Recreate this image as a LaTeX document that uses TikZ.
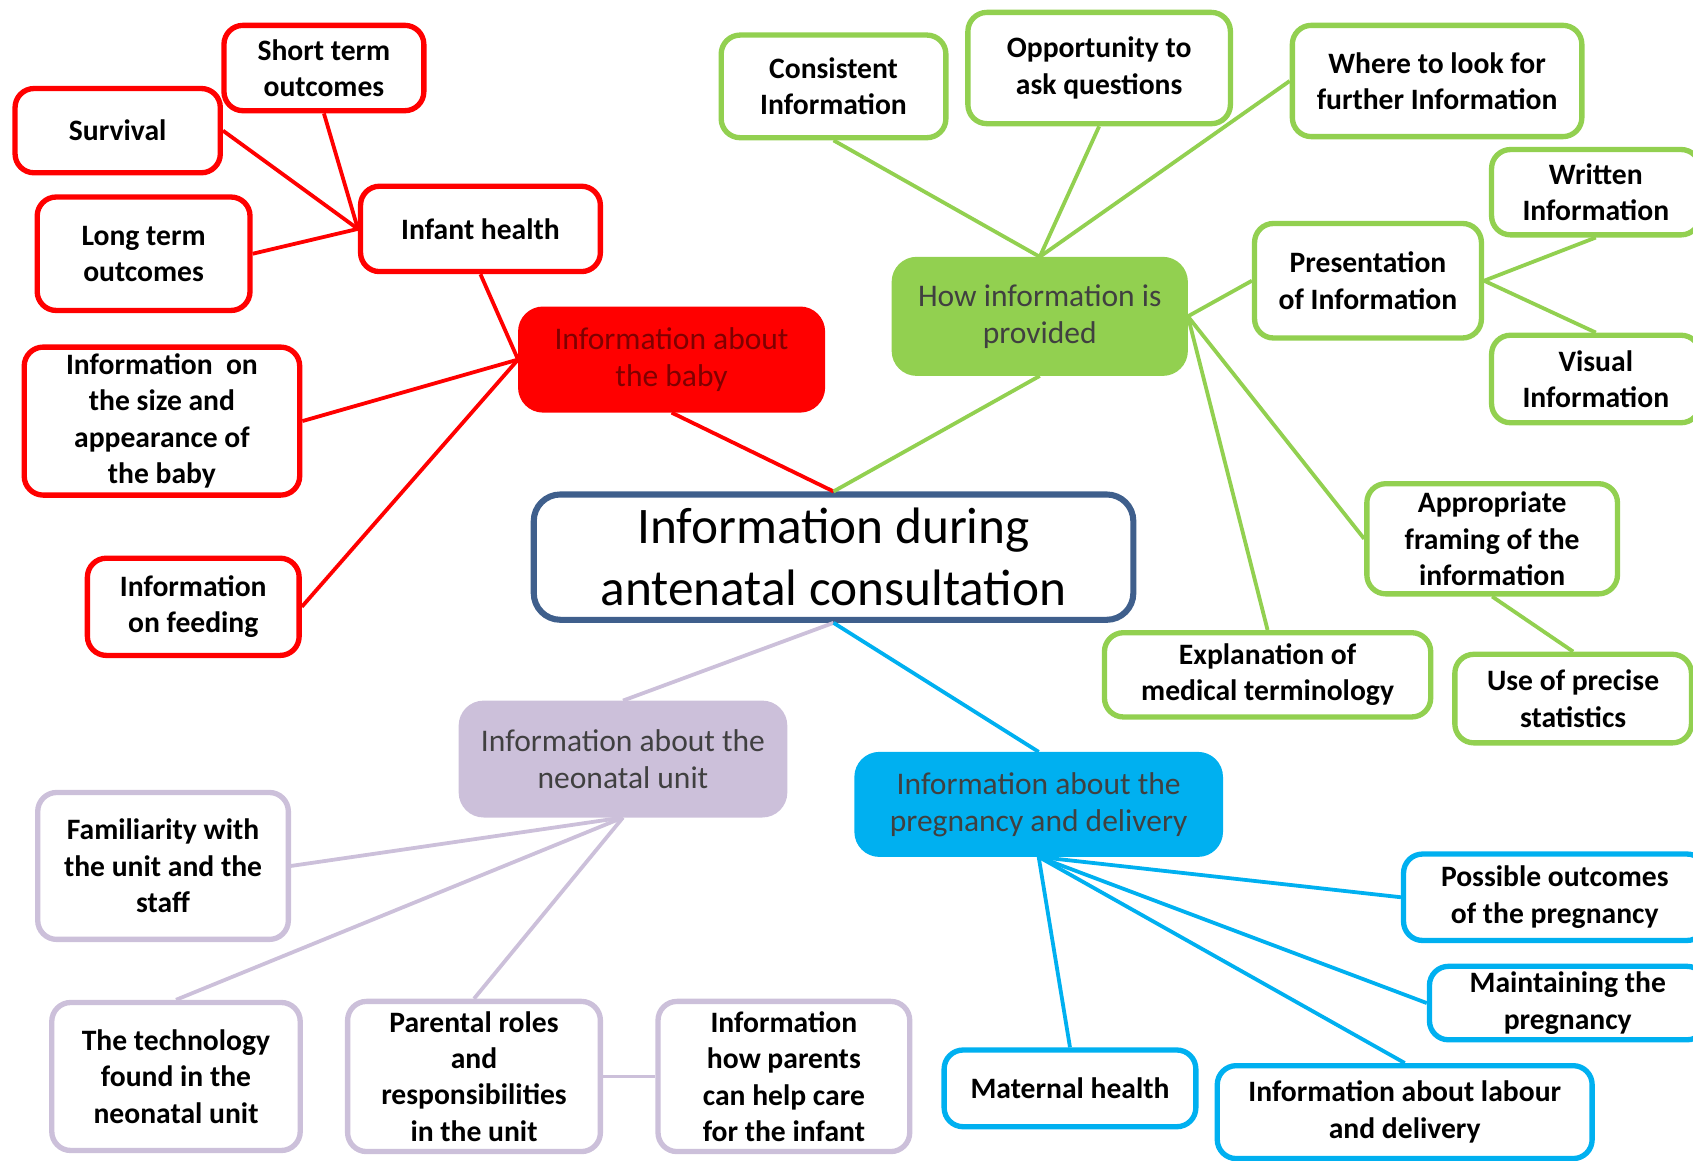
\documentclass[tikz,border=0pt]{standalone}
\usepackage{fontspec}
\setmainfont{Carlito}
\usetikzlibrary{positioning}

\definecolor{babyred}{HTML}{FF0000}
\definecolor{babytext}{HTML}{7F0000}
\definecolor{howgreen}{HTML}{92D050}
\definecolor{pregblue}{HTML}{00B0F0}
\definecolor{unitlilac}{HTML}{CCC0DA}
\definecolor{maintext}{HTML}{404040}
\definecolor{mainblue}{HTML}{3F5F8C}

\begin{document}
\begin{tikzpicture}[x=0.01cm, y=-0.01cm]
	\tikzset{
		leaf/.style={rectangle, rounded corners=5pt, draw, fill=white, line width=1.4pt, align=center, inner sep=1pt, font=\bfseries\fontsize{7.8}{9.6}\selectfont},
		hub/.style={rectangle, rounded corners=6pt, draw, line width=1.2pt, align=center, inner sep=1pt, text=maintext, font=\fontsize{8.3}{9.8}\selectfont},
		babybox/.style={leaf, draw=babyred},
		howbox/.style={leaf, draw=howgreen},
		pregbox/.style={leaf, draw=pregblue},
		unitbox/.style={leaf, draw=unitlilac},
		babyline/.style={draw=babyred, line width=1pt},
		howline/.style={draw=howgreen, line width=1pt},
		pregline/.style={draw=pregblue, line width=1pt},
		unitline/.style={draw=unitlilac, line width=1pt},
	}
	\useasboundingbox (0,0) rectangle (1568,1075);

	% centre
	\node[rectangle, rounded corners=7pt, draw=mainblue, line width=1.6pt, fill=white, align=center, minimum width=5.55cm, minimum height=1.16cm, inner sep=1pt, font=\fontsize{13.5}{16.3}\selectfont] (consult) at (772,516) {Information during\\antenatal consultation};

	% information about the baby
	\node[hub, draw=babyred, fill=babyred, text=babytext, minimum width=2.8cm, minimum height=0.94cm] (baby) at (622,333) {Information about\\the baby};
	\node[babybox, minimum width=2.22cm, minimum height=0.79cm] (infant) at (445,212) {Infant health};
	\node[babybox, minimum width=1.85cm, minimum height=0.79cm] (shortterm) at (300,63) {Short term\\outcomes};
	\node[babybox, minimum width=1.9cm, minimum height=0.78cm] (survival) at (109,121) {Survival};
	\node[babybox, minimum width=1.97cm, minimum height=1.05cm] (longterm) at (133,235) {Long term\\outcomes};
	\node[babybox, minimum width=2.55cm, minimum height=1.37cm] (size) at (150,390) {Information~~on\\the size and\\appearance of\\the baby};
	\node[babybox, minimum width=1.96cm, minimum height=0.9cm] (feeding) at (179,562) {Information\\on feeding};

	% how information is provided
	\node[hub, draw=howgreen, fill=howgreen, minimum width=2.7cm, minimum height=1.06cm] (howinfo) at (963,293) {How information is\\provided};
	\node[howbox, minimum width=2.08cm, minimum height=0.95cm] (consistent) at (772,80) {Consistent\\Information};
	\node[howbox, minimum width=2.43cm, minimum height=1.03cm] (questions) at (1018,63) {Opportunity to\\ask questions};
	\node[howbox, minimum width=2.68cm, minimum height=1.03cm] (further) at (1331,75) {Where to look for\\further Information};
	\node[howbox, minimum width=2.1cm, minimum height=1.06cm] (presentation) at (1267,260) {Presentation\\of Information};
	\node[howbox, minimum width=1.93cm, minimum height=0.79cm] (written) at (1478,178) {Written\\Information};
	\node[howbox, minimum width=1.93cm, minimum height=0.81cm] (visual) at (1478,351) {Visual\\Information};
	\node[howbox, minimum width=2.32cm, minimum height=1.02cm] (framing) at (1382,499) {Appropriate\\framing of the\\information};
	\node[howbox, minimum width=3.02cm, minimum height=0.78cm] (terminology) at (1174,625) {Explanation of\\medical terminology};
	\node[howbox, minimum width=2.19cm, minimum height=0.82cm] (statistics) at (1457,647) {Use of precise\\statistics};

	% information about the pregnancy and delivery
	\node[hub, draw=pregblue, fill=pregblue, minimum width=3.37cm, minimum height=0.93cm] (pregnancy) at (962,745) {Information about the\\pregnancy and delivery};
	\node[pregbox, minimum width=2.8cm, minimum height=0.8cm] (outcomes) at (1440,831) {Possible outcomes\\of the pregnancy};
	\node[pregbox, minimum width=2.56cm, minimum height=0.68cm] (maintaining) at (1452,929) {Maintaining the\\pregnancy};
	\node[pregbox, minimum width=2.33cm, minimum height=0.71cm] (maternal) at (991,1008) {Maternal health};
	\node[pregbox, minimum width=3.47cm, minimum height=0.86cm] (labour) at (1301,1030) {Information about labour\\and delivery};

	% information about the neonatal unit
	\node[hub, draw=unitlilac, fill=unitlilac, minimum width=3cm, minimum height=1.04cm] (neonatal) at (577,703) {Information about the\\neonatal unit};
	\node[unitbox, minimum width=2.32cm, minimum height=1.36cm] (familiarity) at (151,802) {Familiarity with\\the unit and the\\staff};
	\node[unitbox, minimum width=2.3cm, minimum height=1.37cm] (technology) at (163,997) {The technology\\found in the\\neonatal unit};
	\node[unitbox, minimum width=2.34cm, minimum height=1.39cm] (roles) at (439,997) {Parental roles\\and\\responsibilities\\in the unit};
	\node[unitbox, minimum width=2.33cm, minimum height=1.39cm] (helpcare) at (726,997) {Information\\how parents\\can help care\\for the infant};

	%draw lines
	\draw[babyline] (consult.north) -- (baby.south);
	\draw[howline] (consult.north) -- (howinfo.south);
	\draw[unitline] (consult.south) -- (neonatal.north);
	\draw[pregline] (consult.south) -- (pregnancy.north);

	\draw[babyline] (baby.west) -- (infant.south);
	\draw[babyline] (baby.west) -- (size.east);
	\draw[babyline] (baby.west) -- (feeding.east);
	\draw[babyline] (infant.west) -- (shortterm.south);
	\draw[babyline] (infant.west) -- (survival.east);
	\draw[babyline] (infant.west) -- (longterm.east);

	\draw[howline] (howinfo.north) -- (consistent.south);
	\draw[howline] (howinfo.north) -- (questions.south);
	\draw[howline] (howinfo.north) -- (further.west);
	\draw[howline] (howinfo.east) -- (presentation.west);
	\draw[howline] (howinfo.east) -- (framing.west);
	\draw[howline] (howinfo.east) -- (terminology.north);
	\draw[howline] (presentation.east) -- (written.south);
	\draw[howline] (presentation.east) -- (visual.north);
	\draw[howline] (framing.south) -- (statistics.north);

	\draw[pregline] (pregnancy.south) -- (maternal.north);
	\draw[pregline] (pregnancy.south) -- (outcomes.west);
	\draw[pregline] (pregnancy.south) -- (maintaining.west);
	\draw[pregline] (pregnancy.south) -- (labour.north);

	\draw[unitline] (neonatal.south) -- (familiarity.east);
	\draw[unitline] (neonatal.south) -- (technology.north);
	\draw[unitline] (neonatal.south) -- (roles.north);
	\draw[unitline] (roles.east) -- (helpcare.west);
\end{tikzpicture}
\end{document}
